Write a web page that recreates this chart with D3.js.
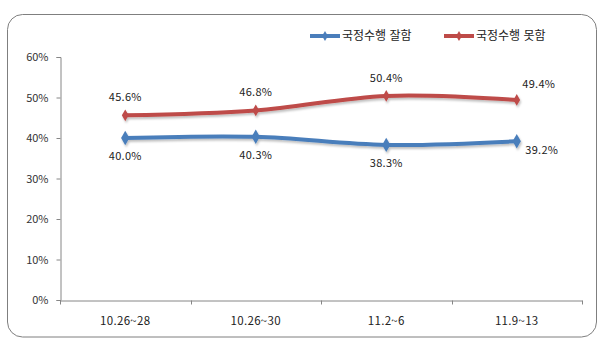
<!DOCTYPE html>
<html lang="ko">
<head>
  <meta charset="UTF-8">
  <script src="https://cdn.jsdelivr.net/npm/d3@7"></script>
  <title>국정수행 평가</title>
  <style>
    body { margin: 0; background: #fff; }
    text { font-family: "Noto Sans CJK KR", "DejaVu Sans", sans-serif; fill: #222; }
  </style>
</head>
<body>
  <svg width="604" height="359" id="chart"></svg>
  <script>
  // data
  let periods = ["10.26~28", "10.26~30", "11.2~6", "11.9~13"];
  let goodVals = [40.0, 40.3, 38.3, 39.2]; // 국정수행 잘함
  let badVals = [45.6, 46.8, 50.4, 49.4];  // 국정수행 못함
  let yTicks = [0, 10, 20, 30, 40, 50, 60];
  let seriesNames = ["국정수행 잘함", "국정수행 못함"];

  let svg = d3.select("#chart");

  // frame with rounded corners
  svg.append("rect")
    .attr("x", 7.5).attr("y", 14.5)
    .attr("width", 589).attr("height", 322.5)
    .attr("rx", 15)
    .attr("fill", "none")
    .attr("stroke", "#7f7f7f")
    .attr("stroke-width", 1);

  let scaleX = d3.scaleBand().domain(periods).range([60, 582]);
  let scaleY = d3.scaleLinear().domain([0, 60]).range([300, 57]);

  /* AXES */
  let axisY = d3.axisLeft(scaleY).tickValues(yTicks).tickFormat(d => d + "%").tickSize(4).tickPadding(8);
  let gy = svg.append("g").attr("transform", "translate(60.5,0)").call(axisY);
  gy.select(".domain").attr("stroke", "#868686");
  gy.selectAll(".tick line").attr("stroke", "#868686");
  gy.selectAll("text").style("font-size", "11px").style("fill", "#333");

  let axisX = d3.axisBottom(scaleX).tickSize(0).tickPadding(16);
  let gx = svg.append("g").attr("transform", "translate(0,300.5)").call(axisX);
  gx.select(".domain").attr("stroke", "#868686");
  gx.selectAll("text").style("font-size", "11.5px").style("fill", "#222").style("letter-spacing", "0.3px");
  // tick marks on band boundaries
  let bounds = periods.map(p => scaleX(p)).concat([scaleX.range()[1]]);
  gx.selectAll(".bound").data(bounds).enter().append("line")
    .attr("x1", d => Math.round(d) + 0.5).attr("x2", d => Math.round(d) + 0.5)
    .attr("y1", 0).attr("y2", 4)
    .attr("stroke", "#868686");

  /* SHADOW */
  let defs = svg.append("defs");
  let f = defs.append("filter").attr("id", "shadow").attr("x", "-10%").attr("y", "-30%").attr("width", "120%").attr("height", "160%");
  f.append("feDropShadow").attr("dx", 1).attr("dy", 2).attr("stdDeviation", 1.2).attr("flood-color", "#000").attr("flood-opacity", 0.25);

  let cx = p => scaleX(p) + scaleX.bandwidth() / 2;
  let line = d3.line().x((d, i) => cx(periods[i])).y(d => scaleY(d)).curve(d3.curveCatmullRom.alpha(0.5));
  let diamond = d3.symbol().type(d3.symbolDiamond);

  let series = [
    { name: seriesNames[0], vals: goodVals, color: "#4a7ebb", size: 60 },
    { name: seriesNames[1], vals: badVals, color: "#be4b48", size: 40 }
  ];

  series.forEach(s => {
    let g = svg.append("g").attr("filter", "url(#shadow)");
    g.append("path")
      .attr("d", line(s.vals))
      .attr("fill", "none")
      .attr("stroke", s.color)
      .attr("stroke-width", 4)
      .attr("stroke-linecap", "round");
    g.selectAll("path.pt").data(s.vals).enter().append("path")
      .attr("class", "pt")
      .attr("transform", (d, i) => "translate(" + cx(periods[i]) + "," + scaleY(d) + ")")
      .attr("d", diamond.size(s.size)())
      .attr("fill", s.color);
  });

  /* DATA LABELS */
  svg.append("g").selectAll("text").data(badVals).enter().append("text")
    .attr("x", (d, i) => cx(periods[i]) + (i == 3 ? 22 : 0))
    .attr("y", (d, i) => scaleY(d) - (i == 3 ? 12 : 14))
    .attr("text-anchor", "middle")
    .style("font-size", "11px")
    .style("letter-spacing", "0.3px")
    .text(d => d.toFixed(1) + "%");

  svg.append("g").selectAll("text").data(goodVals).enter().append("text")
    .attr("x", (d, i) => cx(periods[i]) + (i == 3 ? 25 : 0))
    .attr("y", (d, i) => scaleY(d) + (i == 3 ? 13 : 22))
    .attr("text-anchor", "middle")
    .style("font-size", "11px")
    .style("letter-spacing", "0.3px")
    .text(d => d.toFixed(1) + "%");

  /* LEGEND */
  let legend = svg.append("g").attr("transform", "translate(310,36)");
  series.forEach((s, i) => {
    let lg = legend.append("g").attr("transform", "translate(" + (i * 134) + ",0)");
    lg.append("line").attr("x1", 0).attr("x2", 30).attr("y1", 0).attr("y2", 0)
      .attr("stroke", s.color).attr("stroke-width", 4);
    lg.append("path").attr("transform", "translate(15,0)").attr("d", diamond.size(30)()).attr("fill", s.color);
    lg.append("text").attr("x", 32).attr("y", 4).style("font-size", "12px").text(s.name);
  });
  </script>
</body>
</html>
